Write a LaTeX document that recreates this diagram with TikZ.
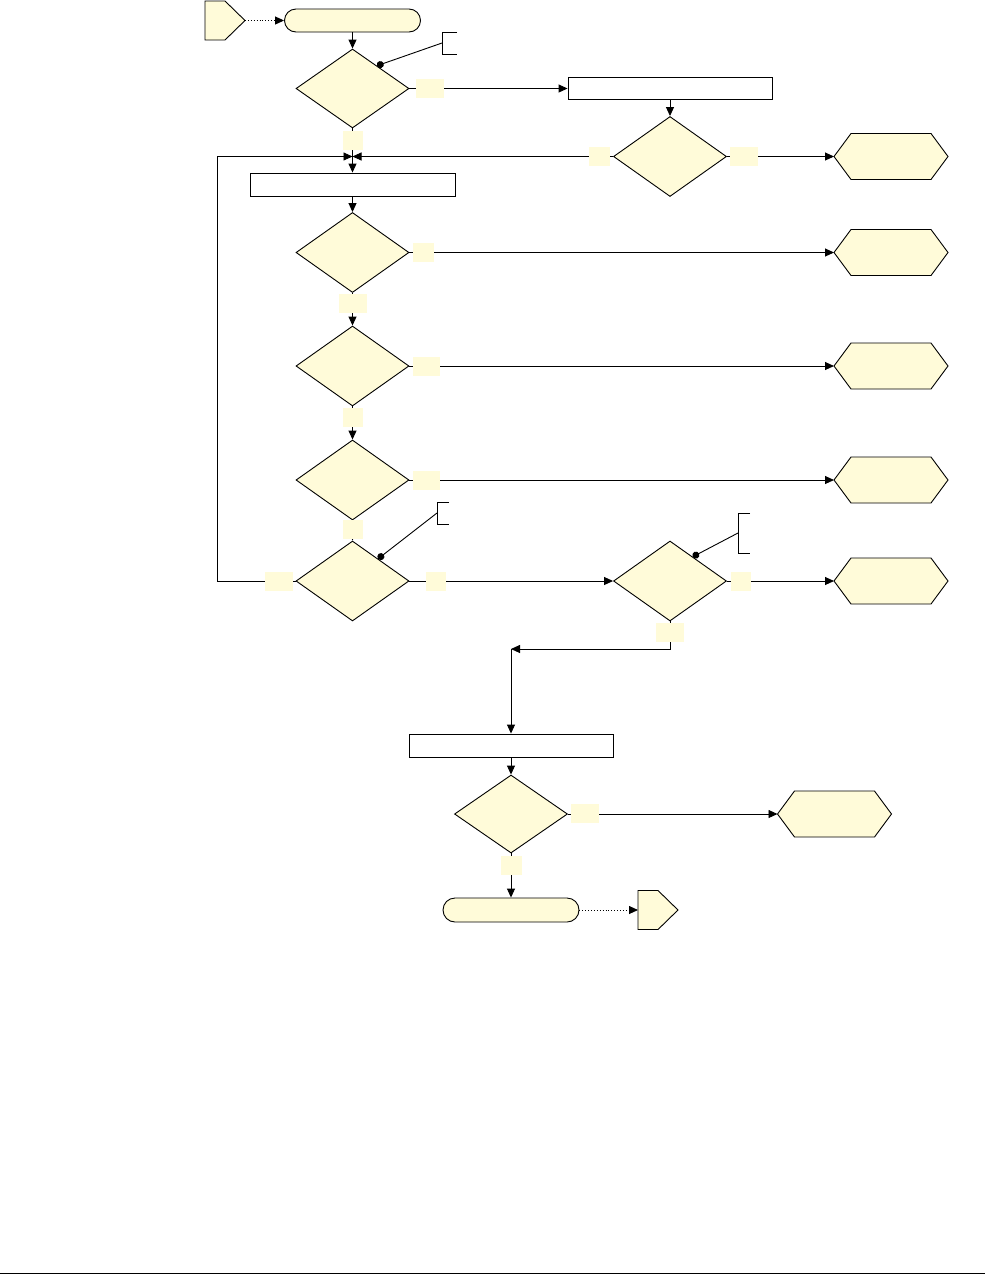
\documentclass[tikz,border=0pt]{standalone}
\usetikzlibrary{shapes.geometric,shapes.misc,arrows.meta,calc}
\definecolor{fillc}{RGB}{255,251,217}
\tikzset{
  base/.style={line width=0.9pt},
  dia/.style={base,diamond,draw,fill=fillc,inner sep=0pt,minimum width=113pt,minimum height=80pt},
  proc/.style={base,rectangle,draw,fill=white,inner sep=0pt,minimum width=204pt,minimum height=22pt},
  term/.style={base,rounded rectangle,draw,fill=fillc,inner sep=0pt,minimum width=136pt,minimum height=23pt},
  lbl/.style={rectangle,fill=fillc,inner sep=0pt,minimum height=19pt},
  ghost/.style={inner sep=0pt,outer sep=0pt},
  arr/.style={base,-{Triangle[length=9pt,width=8pt]}},
  darr/.style={base,dotted,-{Triangle[length=9pt,width=8pt]}},
  dotline/.style={base,{Circle[length=7pt]}-},
  shapeline/.style={base,fill=fillc},
}
\newcommand\hexnode[3]{%
  \node[ghost,minimum width=114pt,minimum height=46pt] (#1) at (#2,#3) {};
  \draw[shapeline] (#1.west) -- ([xshift=17pt]#1.north west) -- ([xshift=-17pt]#1.north east)
    -- (#1.east) -- ([xshift=-17pt]#1.south east) -- ([xshift=17pt]#1.south west) -- cycle;}
\newcommand\pentnode[3]{%
  \node[ghost,minimum width=40pt,minimum height=39pt] (#1) at (#2,#3) {};
  \draw[shapeline] (#1.north west) -- ([xshift=-20pt]#1.north east) -- (#1.east)
    -- ([xshift=-20pt]#1.south east) -- (#1.south west) -- cycle;}
\newcommand\bracketnode[5]{%
  \node[ghost,minimum width=#4,minimum height=#5] (#1) at (#2,#3) {};
  \draw[base] (#1.north east) -- (#1.north west) -- (#1.south west) -- (#1.south east);}
\begin{document}
\begin{tikzpicture}[x=1pt,y=-1pt]
\useasboundingbox (0,0) rectangle (985,1275);
% nodes
\pentnode{p1}{225}{20.5}
\node[term] (t1) at (352.5,20.5) {};
\node[dia,minimum height=79pt] (d1) at (352.5,88.5) {};
\node[proc] (r1) at (670,88.5) {};
\node[dia] (d2) at (670,156.5) {};
\hexnode{h1}{891}{156.5}
\coordinate (m1) at (352.5,156.5);
\coordinate (lp) at (217,156.5);
\node[proc,minimum width=205pt,minimum height=23pt] (r2) at (352.5,184.5) {};
\node[dia] (d3) at (352.5,252.5) {};
\hexnode{h2}{891}{252.5}
\node[dia] (d4) at (352.5,366) {};
\hexnode{h3}{891}{366}
\node[dia] (d5) at (352.5,480) {};
\hexnode{h4}{891}{480}
\node[dia] (d6) at (352.5,581) {};
\node[dia] (d7) at (670,581) {};
\hexnode{h5}{891}{581}
\coordinate (bend) at (511,649);
\node[proc,minimum height=23pt] (r3) at (511,745.5) {};
\node[dia,minimum height=78pt] (d8) at (511,814) {};
\hexnode{h6}{834.5}{814}
\node[term,minimum height=24pt] (t2) at (511,910) {};
\pentnode{p2}{658}{910}
% annotations
\bracketnode{n1}{449.5}{43}{15pt}{22pt}
\bracketnode{n2}{443}{513}{12pt}{22pt}
\bracketnode{n3}{744}{533}{12pt}{40pt}
\coordinate (a1) at ($(d1.north)!0.43!(d1.east)$);
\coordinate (a2) at ($(d6.north)!0.45!(d6.east)$);
\coordinate (a3) at ($(d7.north)!0.40!(d7.east)$);
\draw[dotline] (a1) -- (n1.west);
\draw[dotline] (a2) -- (n2.west);
\draw[dotline] (a3) -- (n3.west);
% connectors
\draw[darr] (p1.east) -- (t1.west);
\draw[arr] (t1.south) -- (d1.north);
\draw[arr] (d1.east) -- (r1.west);
\draw[arr] (r1.south) -- (d2.north);
\draw[arr] (d2.east) -- (h1.west);
\draw[arr] (d2.west) -- (m1);
\draw[arr] (d1.south) -- (r2.north);
\draw[arr] (d6.west) -| (lp) -- (m1);
\draw[arr] (r2.south) -- (d3.north);
\draw[arr] (d3.east) -- (h2.west);
\draw[arr] (d3.south) -- (d4.north);
\draw[arr] (d4.east) -- (h3.west);
\draw[arr] (d4.south) -- (d5.north);
\draw[arr] (d5.east) -- (h4.west);
\draw[arr] (d5.south) -- (d6.north);
\draw[arr] (d6.east) -- (d7.west);
\draw[arr] (d7.east) -- (h5.west);
\draw[arr] (d7.south) |- (bend);
\draw[arr] (bend) -- (r3.north);
\draw[arr] (r3.south) -- (d8.north);
\draw[arr] (d8.east) -- (h6.west);
\draw[arr] (d8.south) -- (t2.north);
\draw[darr] (t2.east) -- (p2.west);
% labels
\node[lbl,minimum width=28pt] (L1) at (430,88.5) {};
\node[lbl,minimum width=20pt] (L2) at (353,140.5) {};
\node[lbl,minimum width=21pt] (L3) at (599.5,156.5) {};
\node[lbl,minimum width=28pt] (L4) at (744,156.5) {};
\node[lbl,minimum width=21pt] (L5) at (423.5,252.5) {};
\node[lbl,minimum width=28pt] (L6) at (353,303.5) {};
\node[lbl,minimum width=27pt] (L7) at (426.5,366.5) {};
\node[lbl,minimum width=20pt] (L8) at (353,417.5) {};
\node[lbl,minimum width=27pt] (L9) at (426.5,480.5) {};
\node[lbl,minimum width=20pt] (L10) at (353,529.5) {};
\node[lbl,minimum width=28pt] (L11) at (279,581.5) {};
\node[lbl,minimum width=20pt] (L12) at (436,581.5) {};
\node[lbl,minimum width=20pt] (L13) at (741,581.5) {};
\node[lbl,minimum width=28pt] (L14) at (670,632.5) {};
\node[lbl,minimum width=28pt] (L15) at (585,813.5) {};
\node[lbl,minimum width=21pt] (L16) at (511,865.5) {};
% page rule
\draw[line width=1pt] (0,1273.5) -- (985,1273.5);
\end{tikzpicture}
\end{document}
